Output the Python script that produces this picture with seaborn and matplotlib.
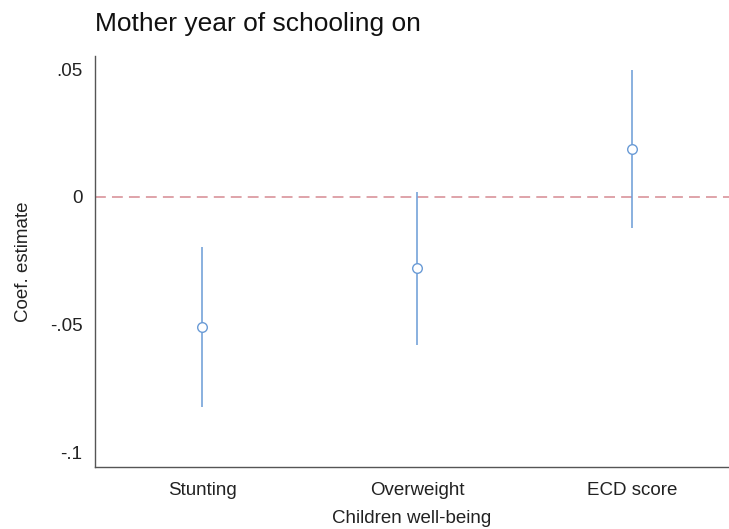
import numpy as np
import pandas as pd
import matplotlib
matplotlib.use("Agg")
import matplotlib.pyplot as plt
import seaborn as sns

# coefficient estimates and 95% CIs
outcomes = ["Stunting", "Overweight", "ECD score"]
coef = [-0.0508, -0.0278, 0.0188]
ci_low = [-0.0822, -0.0578, -0.0121]
ci_high = [-0.0196, 0.0020, 0.0497]
yticks = [-0.1, -0.05, 0, 0.05]
ytick_labels = ["-.1", "-.05", "0", ".05"]

df = pd.DataFrame({"outcome": outcomes, "coef": coef, "lo": ci_low, "hi": ci_high})
df["pos"] = np.arange(1, len(df) + 1)

sns.set_style("white")
plt.rcParams["font.family"] = ["Liberation Sans", "DejaVu Sans"]

blue = "#6a9bd6"
fig = plt.figure(figsize=(7.29, 5.29), dpi=100)
ax = fig.add_axes([0.1303, 0.1172, 0.8697, 0.777])

# zero reference line
ax.axhline(0, color="#dc9ca2", linestyle=(0, (6, 3.4)), linewidth=1.3, zorder=1)

# confidence intervals
ax.vlines(df["pos"], df["lo"], df["hi"], color=blue, linewidth=1.1, zorder=2)

# point estimates (hollow circles)
sns.scatterplot(data=df, x="pos", y="coef", ax=ax, marker="o", s=48,
                facecolor="white", edgecolor=blue, linewidth=1.0, zorder=3)

ax.set_xlim(0.5, 3.449)
ax.set_ylim(-0.1055, 0.0551)
ax.set_xticks(df["pos"])
ax.set_xticklabels(outcomes, fontsize=13.5, color="#222222")
ax.set_yticks(yticks)
ax.set_yticklabels(ytick_labels, fontsize=13.5, color="#222222")
ax.tick_params(axis="x", length=0, pad=11)
ax.tick_params(axis="y", length=0, pad=9)

for side in ["top", "right"]:
    ax.spines[side].set_visible(False)
for side in ["left", "bottom"]:
    ax.spines[side].set_color("#555555")
    ax.spines[side].set_linewidth(1.0)

ax.set_xlabel("Children well-being", fontsize=13.5, color="#222222", labelpad=8)
ax.set_ylabel("Coef. estimate", fontsize=13.5, color="#222222", labelpad=13)
fig.text(0.1303, 0.955, "Mother year of schooling on", fontsize=19,
         color="#111111", ha="left", va="center")

fig.savefig("out.png", dpi=100)
